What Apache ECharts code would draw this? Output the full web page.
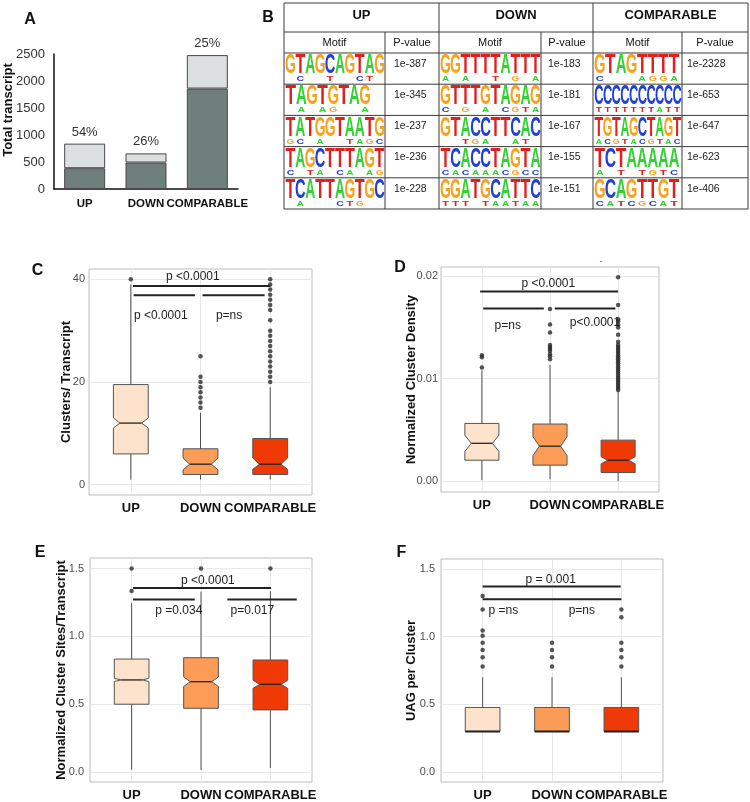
<!DOCTYPE html>
<html><head><meta charset="utf-8">
<script src="https://cdn.jsdelivr.net/npm/echarts@6/dist/echarts.min.js"></script>
<style>html,body{margin:0;padding:0;background:#fff}#c{width:750px;height:802px}</style>
</head><body><div id="c"></div>
<script>
const FONT = '"Liberation Sans", Arial, Helvetica, sans-serif';
const groups = ['UP', 'DOWN', 'COMPARABLE'];

// ---- Panel A: stacked bars ----
const aTotal = [840, 660, 2480];
const aWithCluster = [385, 490, 1860];
const aPct = ['54%', '26%', '25%'];

// ---- Panel B: motif table ----
const motifUP = ['GTAGCAGTAG', 'TAGTGTAG', 'TATGGTAATG', 'TAGCTTTAGT', 'TCATTAGTGC'];
const motifUPsub = [' C  T  CT ', ' A AG  A', 'GC A  TAGC', 'C TA CA AG', ' A   CTG  '];
const motifDOWN = ['GGTTTTATTT', 'GTTTGTAGAG', 'GTACCTTCAC', 'TCACCTAGTA', 'GGATGCATTC'];
const motifDOWNsub = ['A A  T G A', 'C G A CGTA', '  TGA  AT ', 'CACAAACGCC', 'TTT TAATAA'];
const motifCOMP = ['GTAGTTTT', 'CCCCCCCCCC', 'TGTAGCTAGT', 'TCTAAAAA', 'GCAGTTGT'];
const motifCOMPsub = ['C   AGGA', 'TTTTTTTATT', 'ACGTACGTAC', 'A T TGTC', 'CATCGCAT'];
const pvalUP = ['1e-387', '1e-345', '1e-237', '1e-236', '1e-228'];
const pvalDOWN = ['1e-183', '1e-181', '1e-167', '1e-155', '1e-151'];
const pvalCOMP = ['1e-2328', '1e-653', '1e-647', '1e-623', '1e-406'];

// ---- Box stats: [min, Q1, notchLow, median, notchHigh, Q3, max] ----
const statsC = [[1, 6, 11.05, 12, 13, 19.5, 39], [1, 2, 2.9, 4, 5.2, 7, 14], [1, 2, 3.0, 4, 5.2, 9, 19]];
const outC = [[40], [15, 16, 17, 18, 19, 20, 21, 25],
  [20, 21, 22, 23, 24, 25, 26, 27, 28, 29, 30, 32, 34, 35, 36, 37, 38, 39, 40]];
const statsD = [[0.0001, 0.00205, 0.0029, 0.0037, 0.0045, 0.00564, 0.0108],
  [0.0002, 0.00157, 0.0025, 0.00342, 0.00434, 0.00558, 0.01135],
  [0.0, 0.00085, 0.0017, 0.00205, 0.0024, 0.00401, 0.0088]];
const outD = [[0.0111, 0.0121, 0.0123],
  [0.0119, 0.0122, 0.0124, 0.0127, 0.0129, 0.0131, 0.0133, 0.0145, 0.0153, 0.0168],
  [0.0089, 0.0091, 0.0093, 0.0095, 0.0097, 0.0099, 0.0101, 0.0103, 0.0105, 0.0107, 0.0109, 0.0111,
   0.0113, 0.0115, 0.0117, 0.0119, 0.0121, 0.0123, 0.0125, 0.0127, 0.0129, 0.0131, 0.0133, 0.0136,
   0.0143, 0.0150, 0.0153, 0.0156, 0.0158, 0.0172, 0.0199]];
const statsE = [[0.017, 0.5, 0.667, 0.679, 0.691, 0.833, 1.247],
  [0.015, 0.47, 0.631, 0.666, 0.701, 0.843, 1.33],
  [0.03, 0.458, 0.617, 0.647, 0.677, 0.826, 1.333]];
const outE = [[1.335, 1.5], [1.5], [1.5]];
const statsF = [[0.3, 0.3, 0.3, 0.3, 0.3, 0.477, 0.7], [0.3, 0.3, 0.3, 0.3, 0.3, 0.477, 0.7], [0.3, 0.3, 0.3, 0.3, 0.3, 0.477, 0.7]];
const outF = [[0.779, 0.848, 0.902, 0.956, 1.006, 1.045, 1.2, 1.3],
  [0.779, 0.848, 0.902, 0.956],
  [0.779, 0.848, 0.902, 0.956, 1.143, 1.2]];

// significance bars [xStart, xEnd, y] and labels [text, x, y]
const sigLinesC = [[1.03, 3.0, 38.7], [1.04, 1.92, 36.9], [2.03, 2.92, 36.9]];
const sigTextC = [['p <0.0001', 1.89, 40.6], ['p <0.0001', 1.43, 33.0], ['p=ns', 2.41, 33.0]];
const sigLinesD = [[0.975, 3.0, 0.01852], [1.02, 1.91, 0.01686], [2.07, 2.96, 0.01686]];
const sigTextD = [['p <0.0001', 1.975, 0.01928], ['p=ns', 1.38, 0.0152], ['p<0.0001', 2.66, 0.01543]];
const sigLinesE = [[1.02, 3.01, 1.357], [1.02, 1.91, 1.272], [2.38, 3.38, 1.272]];
const sigTextE = [['p <0.0001', 2.10, 1.409], ['p =0.034', 1.68, 1.186], ['p=0.017', 2.74, 1.186]];
const sigLinesF = [[1.0, 2.99, 1.37], [1.0, 2.0, 1.277], [2.0, 3.0, 1.277]];
const sigTextF = [['p = 0.001', 1.98, 1.419], ['p =ns', 1.30, 1.193], ['p=ns', 2.43, 1.193]];

const boxColors = ['#fde3cb', '#fc9c57', '#f03a05'];

const chart = echarts.init(document.getElementById('c'), null, {renderer: 'canvas'});

function renderBox(params, api) {
  const x = api.value(0);
  const mn = api.value(1), q1 = api.value(2), nlo = api.value(3), md = api.value(4),
        nhi = api.value(5), q3 = api.value(6), mx = api.value(7);
  const cx = api.coord([x, md])[0];
  const hw = api.size([0.25, 0])[0];
  const Y = v => api.coord([x, v])[1];
  const notched = nhi > nlo;
  const ins = notched ? hw * 0.38 : 0;
  const L = cx - hw, R = cx + hw;
  const pts = notched
    ? [[L, Y(q1)], [R, Y(q1)], [R, Y(nlo)], [R - ins, Y(md)], [R, Y(nhi)], [R, Y(q3)], [L, Y(q3)], [L, Y(nhi)], [L + ins, Y(md)], [L, Y(nlo)]]
    : [[L, Y(q1)], [R, Y(q1)], [R, Y(q3)], [L, Y(q3)]];
  const wStyle = {stroke: '#505050', lineWidth: 1};
  return {type: 'group', children: [
    {type: 'line', shape: {x1: cx, y1: Y(mn), x2: cx, y2: Y(q1)}, style: wStyle},
    {type: 'line', shape: {x1: cx, y1: Y(q3), x2: cx, y2: Y(mx)}, style: wStyle},
    {type: 'polygon', shape: {points: pts}, style: {fill: boxColors[params.dataIndex], stroke: '#555', lineWidth: 1}},
    {type: 'line', shape: {x1: L + ins, y1: Y(md), x2: R - ins, y2: Y(md)}, style: {stroke: '#222', lineWidth: notched ? 1.3 : 2}}
  ]};
}

function panelSeries(gi, stats, outs, lines, texts) {
  return [
    {type: 'custom', xAxisIndex: gi, yAxisIndex: gi, renderItem: renderBox, clip: false,
     encode: {x: 0, y: [1, 2, 3, 4, 5, 6, 7]},
     data: stats.map((s, i) => [i + 1].concat(s)), z: 2},
    {type: 'scatter', xAxisIndex: gi, yAxisIndex: gi, symbolSize: 4.5, itemStyle: {color: '#2a2a2a'},
     data: outs.flatMap((arr, i) => arr.map(v => [i + 1, v])), z: 3, silent: true},
    {type: 'custom', xAxisIndex: gi, yAxisIndex: gi, clip: false, z: 4,
     encode: {x: [0, 1], y: 2},
     data: lines,
     renderItem: (p, api) => {
       const a = api.coord([api.value(0), api.value(2)]);
       const b = api.coord([api.value(1), api.value(2)]);
       return {type: 'line', shape: {x1: a[0], y1: a[1], x2: b[0], y2: b[1]}, style: {stroke: '#222', lineWidth: 2}};
     }},
    {type: 'custom', xAxisIndex: gi, yAxisIndex: gi, clip: false, z: 5,
     encode: {x: 0, y: 1},
     data: texts.map(t => [t[1], t[2]]),
     renderItem: (p, api) => {
       const c = api.coord([api.value(0), api.value(1)]);
       return {type: 'text', x: c[0], y: c[1], style: {text: texts[p.dataIndex][0], font: '12px ' + FONT, fill: '#222', textAlign: 'center', textVerticalAlign: 'middle'}};
     }}
  ];
}

const catX = gi => ({
  type: 'value', gridIndex: gi, min: 0.4, max: 3.6,
  axisLine: {show: false, onZero: false}, axisTick: {show: false, customValues: [1, 2, 3]},
  axisLabel: {customValues: [1, 2, 3], formatter: v => groups[Math.round(v) - 1], fontFamily: FONT, fontWeight: 'bold', fontSize: 13, color: '#111', margin: 7},
  splitLine: {show: true, lineStyle: {color: '#e8e8e8', width: 1}}
});
const valY = (gi, min, max, ticks, name, gap, fmt, margin) => ({
  type: 'value', gridIndex: gi, min: min, max: max,
  axisLine: {show: false, onZero: false}, axisTick: {show: false, customValues: ticks},
  axisLabel: {customValues: ticks, formatter: fmt, fontFamily: FONT, fontSize: 11, color: '#4d4d4d', margin: margin},
  splitLine: {show: true, lineStyle: {color: '#e8e8e8', width: 1}},
  name: name, nameLocation: 'middle', nameGap: gap, nameMoveOverlap: false,
  nameTextStyle: {fontFamily: FONT, fontWeight: 'bold', fontSize: 13, color: '#111'}
});

// ---- table graphics ----
const LCOL = {A: '#33d133', C: '#1f3fd6', G: '#f6a21e', T: '#e01f1f'};
const INK = {A: 0.70, C: 0.66, G: 0.70, T: 0.60};
function letterEl(ch, cx, cy, w, h) {
  const fs = 40;
  return {type: 'text', x: cx, y: cy, scaleX: w / (INK[ch] * fs), scaleY: h / (0.716 * fs), silent: true,
    style: {text: ch, font: 'bold 40px ' + FONT, fill: LCOL[ch], textAlign: 'center', textVerticalAlign: 'middle'}};
}
const els = [];
const rowTop = [53, 84.2, 115.4, 146.6, 177.8];
const tTop = 3, tBot = 209;
const lineStyle = {stroke: '#3a3a3a', lineWidth: 1};
[tTop, 32, 53, 84.2, 115.4, 146.6, 177.8, tBot].forEach(y => els.push({type: 'line', shape: {x1: 284, y1: y, x2: 748, y2: y}, style: lineStyle, silent: true}));
[284, 439, 593, 748].forEach(x => els.push({type: 'line', shape: {x1: x, y1: tTop, x2: x, y2: tBot}, style: lineStyle, silent: true}));
[385, 541, 682].forEach(x => els.push({type: 'line', shape: {x1: x, y1: 32, x2: x, y2: tBot}, style: lineStyle, silent: true}));
const txt = (t, x, y, f, align) => ({type: 'text', x: x, y: y, silent: true, style: {text: t, font: f, fill: '#111', textAlign: align || 'center', textVerticalAlign: 'middle'}});
els.push(txt('UP', 361.5, 15.5, 'bold 13px ' + FONT));
els.push(txt('DOWN', 516, 15.5, 'bold 13px ' + FONT));
els.push(txt('COMPARABLE', 670.5, 15.5, 'bold 13px ' + FONT));
[[334.5, 412], [490, 567], [637.5, 715]].forEach(p => {
  els.push(txt('Motif', p[0], 43, '11px ' + FONT));
  els.push(txt('P-value', p[1], 43, '11px ' + FONT));
});
function addMotifs(motifs, subs, pvals, x0, x1, px, maxW) {
  motifs.forEach((m, r) => {
    const n = m.length;
    const w = Math.min(maxW, (x1 - x0 - 2) / n);
    const top = rowTop[r];
    for (let i = 0; i < n; i++) {
      const cx = x0 + 1.5 + w * (i + 0.5);
      els.push(letterEl(m[i], cx, top + 12.5, w * 0.98, 20));
      const s = subs[r][i];
      if (s && s !== ' ') els.push(letterEl(s, cx, top + 26.5, w * 0.7, 4.5));
    }
    els.push({type: 'text', x: px, y: top + 11, silent: true, style: {text: pvals[r], font: '10.5px ' + FONT, fill: '#222', textAlign: 'left', textVerticalAlign: 'middle'}});
  });
}
addMotifs(motifUP, motifUPsub, pvalUP, 284, 385, 394, 10.6);
addMotifs(motifDOWN, motifDOWNsub, pvalDOWN, 439, 541, 548, 10.6);
addMotifs(motifCOMP, motifCOMPsub, pvalCOMP, 593, 682, 687, 10.6);

els.push({type: 'text', x: 8, y: 110, rotation: Math.PI / 2, silent: true,
  style: {text: 'Total transcript', font: 'bold 13px ' + FONT, fill: '#111', textAlign: 'center', textVerticalAlign: 'middle'}});
[['A', 30, 20], ['B', 268, 18], ['C', 37.5, 271], ['D', 400, 268], ['E', 40, 553], ['F', 401.5, 553]]
  .forEach(l => els.push(txt(l[0], l[1], l[2], 'bold 16px ' + FONT)));
els.push({type: 'text', x: 601, y: 262, silent: true, style: {text: '-', font: '9px ' + FONT, fill: '#555', textAlign: 'center', textVerticalAlign: 'middle'}});

const option = {
  backgroundColor: '#ffffff',
  animation: false,
  textStyle: {fontFamily: FONT},
  grid: [
    {left: 54, top: 54, width: 184, height: 135},
    {left: 89, top: 269, width: 223, height: 226, show: true, borderColor: '#bdbdbd', borderWidth: 1},
    {left: 441, top: 267, width: 218, height: 225, show: true, borderColor: '#bdbdbd', borderWidth: 1},
    {left: 90, top: 558, width: 222, height: 224, show: true, borderColor: '#bdbdbd', borderWidth: 1},
    {left: 441, top: 559, width: 222, height: 223, show: true, borderColor: '#bdbdbd', borderWidth: 1}
  ],
  xAxis: [
    {type: 'category', gridIndex: 0, data: groups,
     axisLine: {lineStyle: {color: '#111', width: 1.5}}, axisTick: {show: false},
     axisLabel: {fontFamily: FONT, fontWeight: 'bold', fontSize: 11.5, color: '#111', margin: 9, interval: 0}},
    catX(1), catX(2), catX(3), catX(4)
  ],
  yAxis: [
    {type: 'value', gridIndex: 0, min: 0, max: 2500, interval: 500,
     axisLine: {show: true, lineStyle: {color: '#111', width: 1.5}}, axisTick: {show: false},
     axisLabel: {fontFamily: FONT, fontSize: 13, color: '#333', margin: 9, formatter: v => String(v)}, splitLine: {show: false}},
    valY(1, -2, 42, [0, 20, 40], 'Clusters/ Transcript', 16.5, v => String(v), 4),
    valY(2, -0.00105, 0.0209, [0, 0.01, 0.02], 'Normalized Cluster Density', 23.5, v => v.toFixed(2), 3),
    valY(3, -0.0735, 1.578, [0, 0.5, 1, 1.5], 'Normalized Cluster Sites/Transcript', 22.5, v => v.toFixed(1), 6),
    valY(4, -0.074, 1.574, [0, 0.5, 1, 1.5], 'UAG per Cluster', 22.8, v => v.toFixed(1), 6)
  ],
  series: [
    {type: 'bar', xAxisIndex: 0, yAxisIndex: 0, stack: 'a', barWidth: 41, data: aWithCluster,
     itemStyle: {color: '#6f7f7b', borderColor: '#4a4a4a', borderWidth: 1}},
    {type: 'bar', xAxisIndex: 0, yAxisIndex: 0, stack: 'a', barWidth: 41,
     data: aTotal.map((t, i) => t - aWithCluster[i]),
     itemStyle: {color: '#dcdfdf', borderColor: '#4a4a4a', borderWidth: 1},
     label: {show: true, position: 'top', distance: 5, formatter: p => aPct[p.dataIndex], fontFamily: FONT, fontSize: 13, color: '#333'}}
  ].concat(
    panelSeries(1, statsC, outC, sigLinesC, sigTextC),
    panelSeries(2, statsD, outD, sigLinesD, sigTextD),
    panelSeries(3, statsE, outE, sigLinesE, sigTextE),
    panelSeries(4, statsF, outF, sigLinesF, sigTextF)
  ),
  graphic: {elements: els}
};
chart.setOption(option);
</script></body></html>
